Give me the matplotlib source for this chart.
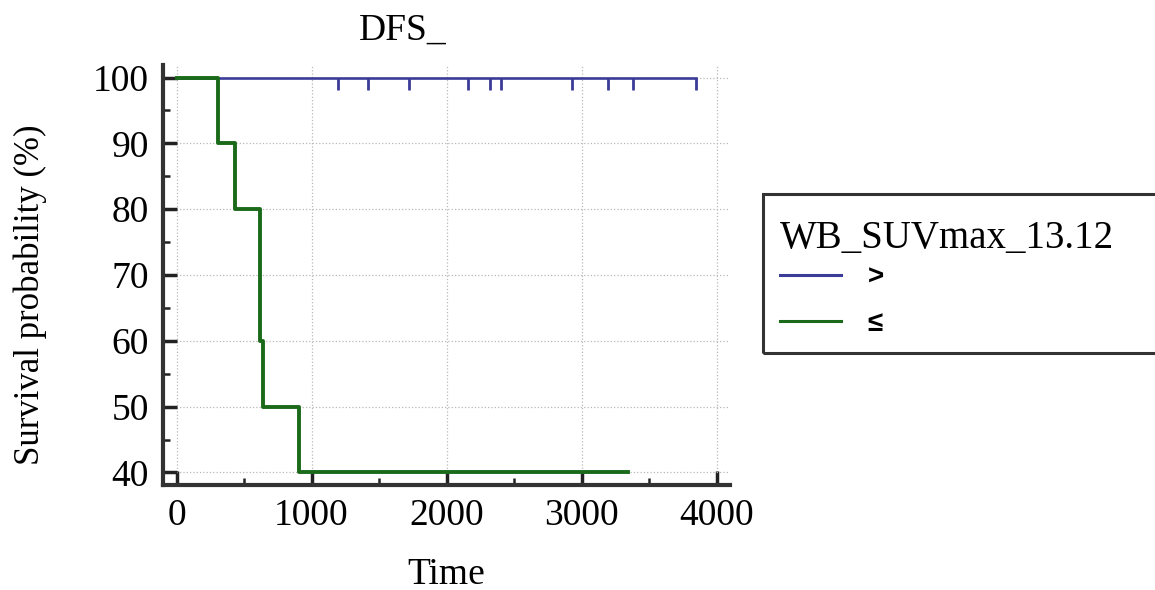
import matplotlib
matplotlib.use("Agg")
import matplotlib.pyplot as plt
from matplotlib.patches import Rectangle
from matplotlib.ticker import MultipleLocator

# ---- data ----
title = "DFS_"
legend_title = "WB_SUVmax_13.12"
group_labels = [">", "≤"]

blue_times = [0, 3849]
blue_surv = [100, 100]
blue_censor = [1199, 1422, 1723, 2162, 2324, 2406, 2927, 3197, 3381, 3849]

green_times = [0, 310, 433, 618, 643, 907, 3345]
green_surv = [100, 90, 80, 60, 50, 40, 40]

x_ticks = [0, 1000, 2000, 3000, 4000]
y_ticks = [40, 50, 60, 70, 80, 90, 100]

BLUE = "#3b3b98"
GREEN = "#1a6a1a"
SERIF = ["Liberation Serif", "DejaVu Serif"]

fig = plt.figure(figsize=(11.55, 5.9), dpi=100)
W, H = 1155, 590
ax = fig.add_axes([163 / W, 1 - 485 / H, (730 - 163) / W, (485 - 65) / H])

ax.step(blue_times, blue_surv, where="post", color=BLUE, lw=1.9, zorder=3, label=group_labels[0])
cens_marker = [(0, 0), (0, -1)]
ax.plot(blue_censor, [100] * len(blue_censor), ls="none", marker=cens_marker,
        markersize=17, markeredgewidth=2, color=BLUE, zorder=3)
ax.step(green_times, green_surv, where="post", color=GREEN, lw=2.8, zorder=4, label=group_labels[1])

ax.set_xlim(-100, 4100)
ax.set_ylim(38.1, 101.9)
ax.set_xticks(x_ticks)
ax.set_yticks(y_ticks)
ax.xaxis.set_minor_locator(MultipleLocator(500))
ax.yaxis.set_minor_locator(MultipleLocator(5))
ax.tick_params(which="major", direction="in", length=10, width=2.5, color="#222222",
               labelsize=27, pad=10)
ax.tick_params(which="minor", direction="in", length=5, width=1.8, color="#222222")
for lab in ax.get_xticklabels() + ax.get_yticklabels():
    lab.set_fontfamily(SERIF)

ax.grid(True, which="major", ls=":", color="#b8b8b8", lw=0.9, zorder=0)
for s in ["top", "right"]:
    ax.spines[s].set_visible(False)
for s in ["left", "bottom"]:
    ax.spines[s].set_linewidth(3)
    ax.spines[s].set_color("#333333")

ax.set_title(title, fontsize=27, family=SERIF, x=(403 - 163) / 567, pad=18)
ax.set_xlabel("Time", fontsize=27, family=SERIF)
ax.xaxis.set_label_coords(0.5, -(575 - 485) / 420)
ax.xaxis.label.set_va("center")
ax.set_ylabel("Survival probability (%)", fontsize=25, family=SERIF, va="center")
ax.yaxis.set_label_coords((30 - 163) / 567, (485 - 295) / 420)

leg = ax.legend(title=legend_title, loc="upper left",
                bbox_to_anchor=(780 / W, 1 - 220 / H), bbox_transform=fig.transFigure,
                frameon=False, handlelength=2.2, handletextpad=0.95, labelspacing=0.73,
                borderpad=0, borderaxespad=0,
                prop={"family": "Liberation Sans", "weight": "bold", "size": 20})
leg.get_title().set_fontsize(28)
leg.get_title().set_fontfamily(SERIF)
leg._legend_box.align = "left"
leg._legend_box.sep = 5.6
for h in leg.get_lines():
    h.set_linewidth(2.2)

fig.patches.append(Rectangle((763 / W, 1 - 353 / H), (1160 - 763) / W, (353 - 194) / H,
                             transform=fig.transFigure, fill=False, ec="#333333", lw=2.2))

fig.savefig("out.png", dpi=100)
